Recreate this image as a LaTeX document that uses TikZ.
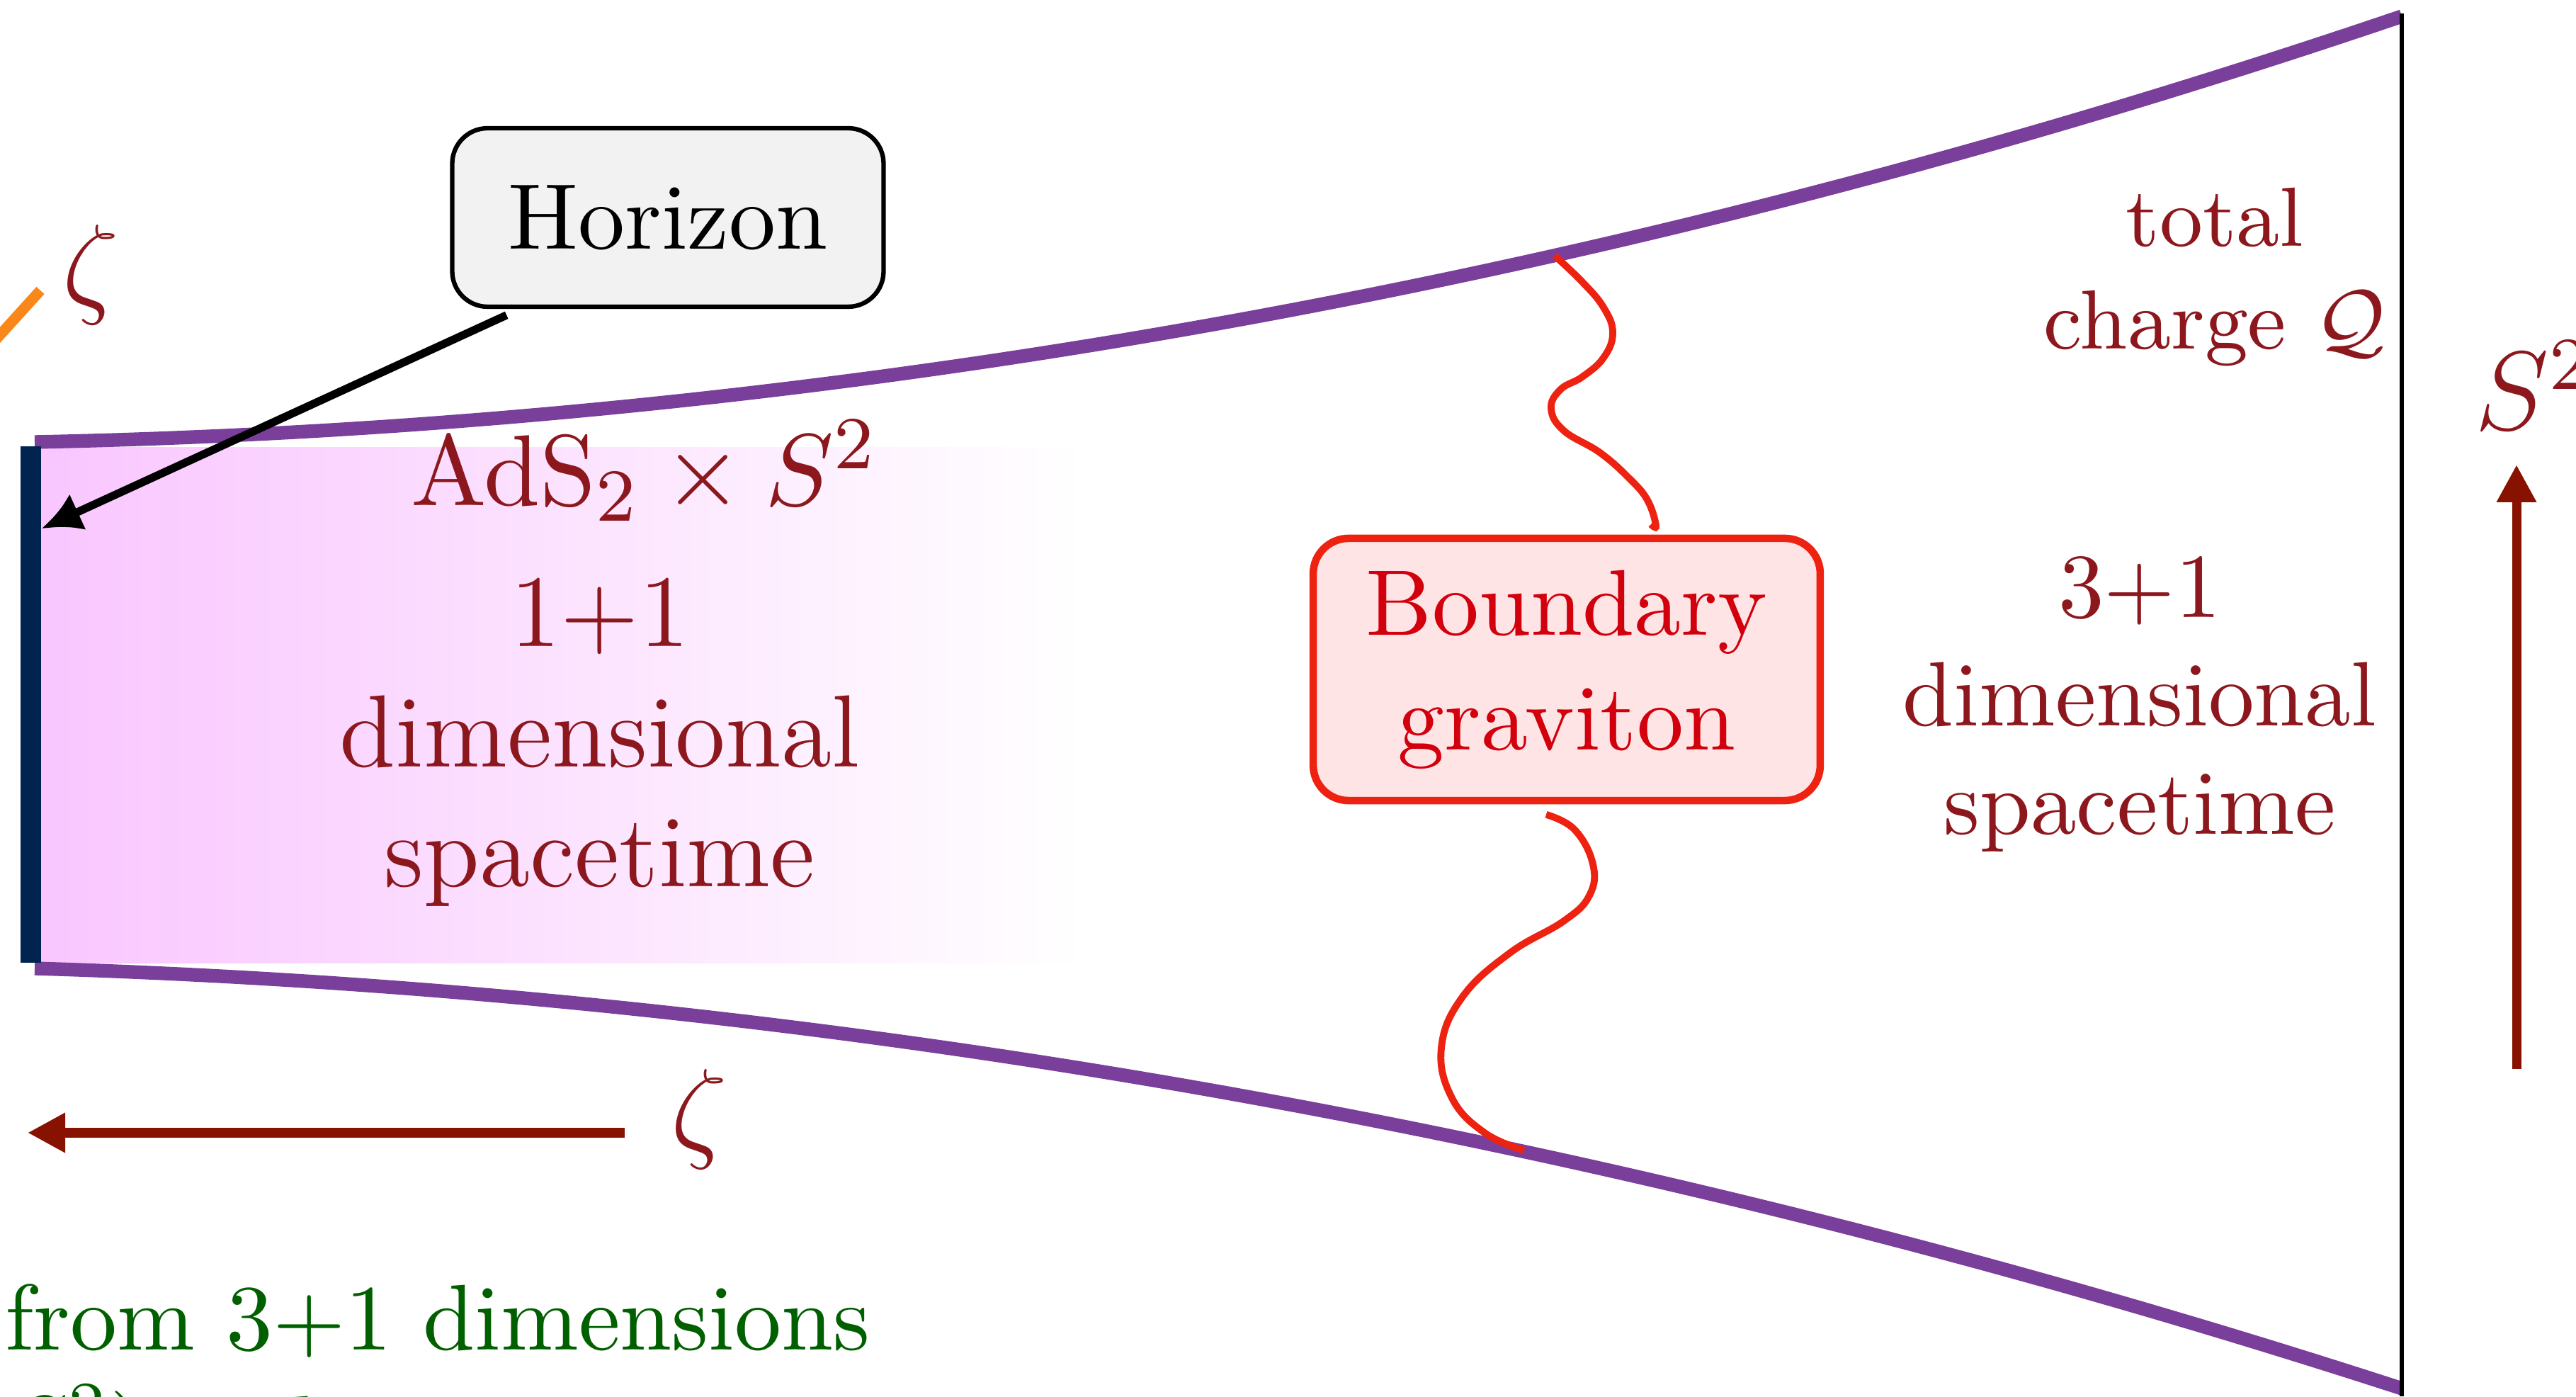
\documentclass[tikz,border=0pt]{standalone}
\usepackage{amsmath,amssymb}
\usetikzlibrary{arrows.meta,calc}

\definecolor{throatpurple}{RGB}{122,62,155}
\definecolor{horizonnavy}{RGB}{0,35,80}
\definecolor{adspink}{RGB}{249,198,255}
\definecolor{labelred}{RGB}{140,24,30}
\definecolor{arrowred}{RGB}{136,18,0}
\definecolor{gravred}{RGB}{238,34,17}
\definecolor{gravtext}{RGB}{210,0,12}
\definecolor{gravfill}{RGB}{255,228,230}
\definecolor{horizongray}{RGB}{242,242,242}
\definecolor{zetaorange}{RGB}{250,135,25}
\definecolor{textgreen}{RGB}{0,96,0}

\begin{document}
\begin{tikzpicture}[
  throat/.style={throatpurple,line width=5.5pt},
  wave/.style={gravred,line width=2.8pt},
  dirarrow/.style={arrowred,line width=3.7pt,-{Triangle[length=5.3mm,width=5.3mm]}},
  horarrow/.style={black,line width=3.2pt,-{Latex[length=5.6mm,width=5.6mm]}},
  horizonbox/.style={draw=black,line width=1.8pt,fill=horizongray,
    rounded corners=0.5cm,scale=3.75,minimum width=1.624cm,minimum height=0.672cm,
    font=\fontsize{10}{12}\selectfont},
  gravbox/.style={draw=gravred,line width=3pt,fill=gravfill,text=gravtext,
    rounded corners=0.5cm,scale=3.75,minimum width=1.909cm,minimum height=0.987cm,
    align=center,font=\fontsize{10}{12.3}\selectfont},
  redtext/.style={labelred,scale=3.75,align=center},
  symlabel/.style={labelred,scale=3.75,inner sep=0pt,font=\fontsize{12}{14}\selectfont}
]
\useasboundingbox (0,0) rectangle (36.37,19.71);
\clip (0,0) rectangle (36.37,19.71);

% near-horizon region
\shade[left color=adspink,right color=white] (0.58,6.11) rectangle (15.3,13.39);

% throat boundaries
\coordinate (uppstart) at (0.49,13.47);
\coordinate (uppend) at (33.91,19.48);
\coordinate (lowstart) at (0.49,6.04);
\coordinate (lowend) at (33.91,0.11);
\draw[throat] (uppstart) .. controls (11.64,13.70) and (22.78,15.70) .. (uppend);
\draw[throat] (lowstart) .. controls (11.64,5.70) and (22.78,3.72) .. (lowend);
\draw[black,line width=1.5pt] (33.91,19.52) -- (33.91,0);

\node[fill=horizonnavy,inner sep=0pt,minimum width=0.29cm,minimum height=7.29cm]
  (horbar) at (0.435,9.765) {};

% boundary graviton
\node[gravbox] (graviton) at (22.12,10.26) {Boundary\\graviton};
\coordinate (gtop) at (21.95,16.10);
\coordinate (gbot) at (21.52,3.47);
\draw[wave] plot[smooth,tension=0.7] coordinates {(gtop) (22.34,15.73) (22.64,15.37)
  (22.77,15.01) (22.64,14.66) (22.34,14.39) (22.03,14.21) (21.90,13.94) (22.08,13.63)
  (22.59,13.32) (23.00,12.96) (23.26,12.65) (23.38,12.29) (graviton.north -| 23.31,0)};
\draw[wave] plot[smooth,tension=0.7] coordinates {(graviton.south -| 21.83,0)
  (22.23,8.00) (22.49,7.51) (22.44,7.07) (22.08,6.71) (21.32,6.26) (20.65,5.64)
  (20.35,4.92) (20.50,4.21) (20.96,3.72) (gbot)};

% horizon label
\node[horizonbox] (horizon) at (9.43,16.64) {Horizon};
\draw[horarrow] ($(horizon.south west)!0.14!(horizon.south east)$)
  -- ($(horbar.north east)!0.16!(horbar.south east)$);

% region labels
\node[redtext,anchor=base,font=\fontsize{10.8}{12.85}\selectfont] (adslabel)
  at (9.10,12.57) {AdS$_2\times S^2$};
\node[redtext,font=\fontsize{11}{12.85}\selectfont] (lowdim)
  at (8.47,9.23) {1+1\\dimensional\\spacetime};
\node[redtext,font=\fontsize{9.8}{11.6}\selectfont] (highdim)
  at (30.21,9.77) {3+1\\dimensional\\spacetime};
\node[redtext,font=\fontsize{9}{11}\selectfont] (charge)
  at (31.27,15.80) {total\\charge $\mathcal{Q}$};

% direction arrows
\coordinate (zetatail) at (8.82,3.72);
\coordinate (zetahead) at (0.39,3.72);
\draw[dirarrow] (zetatail) -- (zetahead);
\node[symlabel,anchor=base] (zetalow) at (9.87,3.52) {$\zeta$};

\coordinate (spheretail) at (35.53,4.62);
\coordinate (spherehead) at (35.53,13.15);
\draw[dirarrow] (spheretail) -- (spherehead);
\node[symlabel,anchor=base west] (sphere) at (34.92,13.64) {$S^2$};

\draw[zetaorange,line width=4.3pt] (-0.6,14.32) -- (0.57,15.61);
\node[symlabel,anchor=base] (zetaleft) at (1.28,15.43) {$\zeta$};

\node[textgreen,anchor=north west,align=left,scale=3.75,inner sep=0pt,
  font=\fontsize{10}{11.9}\selectfont] (reduction) at (0.05,1.61)
  {from 3+1 dimensions\\$S^2$) to lower energies};
\end{tikzpicture}
\end{document}
